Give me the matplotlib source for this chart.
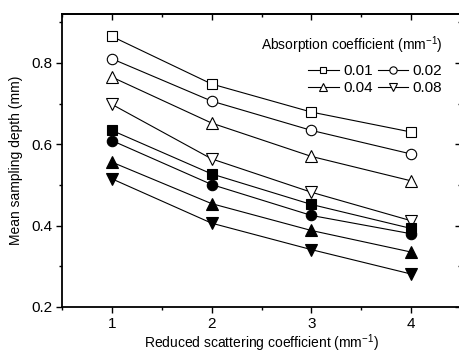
import matplotlib
matplotlib.use("Agg")
import matplotlib.pyplot as plt
from matplotlib.ticker import MultipleLocator

plt.rcParams['font.family'] = ['Liberation Sans', 'DejaVu Sans']
plt.rcParams['mathtext.fontset'] = 'custom'
plt.rcParams['mathtext.rm'] = 'Liberation Sans'

scattering = [1, 2, 3, 4]
labels = ["0.01", "0.02", "0.04", "0.08"]

# open symbols
open_sq = [0.865, 0.748, 0.679, 0.630]
open_ci = [0.810, 0.706, 0.634, 0.576]
open_tu = [0.765, 0.652, 0.570, 0.510]
open_td = [0.698, 0.564, 0.482, 0.412]

# filled symbols
fill_sq = [0.634, 0.527, 0.452, 0.393]
fill_ci = [0.609, 0.501, 0.425, 0.380]
fill_tu = [0.556, 0.454, 0.388, 0.335]
fill_td = [0.515, 0.406, 0.341, 0.281]

fig = plt.figure(figsize=(4.59, 3.54), dpi=100)
ax = fig.add_axes([62/459, 1 - 307/354, (461-62)/459, (307-14)/354])

open_series = [(open_sq, 's'), (open_ci, 'o'), (open_tu, '^'), (open_td, 'v')]
fill_series = [(fill_sq, 's'), (fill_ci, 'o'), (fill_tu, '^'), (fill_td, 'v')]
sizes = {'s': 7, 'o': 7.5, '^': 8, 'v': 8}

handles = []
for (vals, m), lab in zip(open_series, labels):
    h, = ax.plot(scattering, vals, color='black', lw=0.8, marker=m,
                 markersize=sizes[m], markerfacecolor='white',
                 markeredgecolor='black', markeredgewidth=0.8, label=lab)
    handles.append(h)
for vals, m in fill_series:
    ax.plot(scattering, vals, color='black', lw=0.8, marker=m,
            markersize=sizes[m], markerfacecolor='black',
            markeredgecolor='black', markeredgewidth=0.8)

ax.set_xlim(0.5, 4.5)
ax.set_ylim(0.2, 0.92)
ax.set_xticks([1, 2, 3, 4])
ax.xaxis.set_minor_locator(MultipleLocator(0.5))
ax.set_yticks([0.2, 0.4, 0.6, 0.8])
ax.yaxis.set_minor_locator(MultipleLocator(0.1))

for s in ax.spines.values():
    s.set_linewidth(1.3)

ax.tick_params(axis='both', which='major', direction='out', length=4.5,
               width=1.0, labelsize=11, pad=2.5)
ax.tick_params(axis='both', which='minor', direction='out', length=2.5,
               width=1.0)

# mirrored ticks on top and right, pointing inward
secx = ax.secondary_xaxis('top')
secx.set_xticks([1, 2, 3, 4])
secx.xaxis.set_minor_locator(MultipleLocator(0.5))
secx.tick_params(axis='x', which='major', direction='in', length=4.5,
                 width=1.0, labeltop=False)
secx.tick_params(axis='x', which='minor', direction='in', length=2.5, width=1.0)
secx.spines['top'].set_linewidth(1.3)
secy = ax.secondary_yaxis('right')
secy.set_yticks([0.2, 0.4, 0.6, 0.8])
secy.yaxis.set_minor_locator(MultipleLocator(0.1))
secy.tick_params(axis='y', which='major', direction='in', length=4.5,
                 width=1.0, labelright=False)
secy.tick_params(axis='y', which='minor', direction='in', length=2.5, width=1.0)

ax.set_xlabel('Reduced scattering coefficient (mm$^{-1}$)', fontsize=10, labelpad=1)
ax.set_ylabel('Mean sampling depth (mm)', fontsize=10, labelpad=6)

order = [handles[0], handles[2], handles[1], handles[3]]
leg = ax.legend(order, [h.get_label() for h in order], ncol=2,
                title='Absorption coefficient (mm$^{-1}$)', title_fontsize=10,
                fontsize=11, frameon=False, loc='upper right',
                bbox_to_anchor=(0.98, 0.968), handlelength=2.0,
                handletextpad=0.3, columnspacing=0.3, labelspacing=0.2,
                markerscale=0.7, borderpad=0.2)
leg._legend_box.align = 'right'
leg._legend_box.sep = 6

fig.savefig('out.png', dpi=100)
